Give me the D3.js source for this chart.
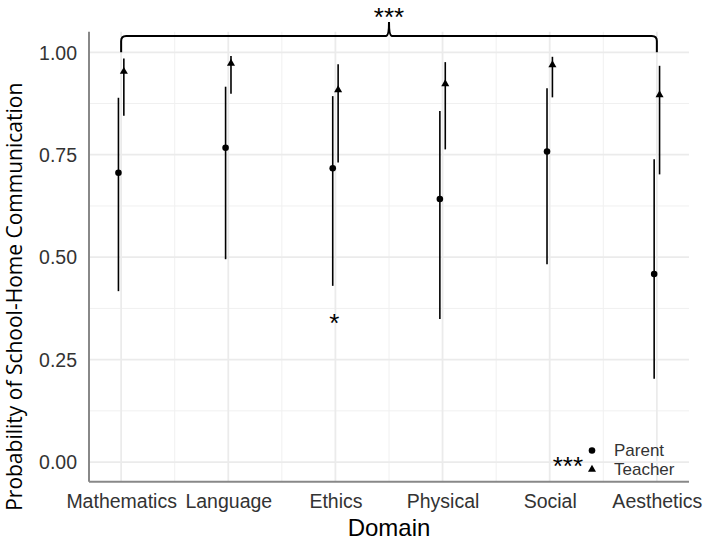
<!DOCTYPE html>
<html>
<head>
<meta charset="utf-8">
<script src="https://cdn.jsdelivr.net/npm/d3@7"></script>
<style>
  body { margin: 0; background: #fff; }
  svg { display: block; }
</style>
</head>
<body>
<div id="chart"></div>
<script>
// domains on the x axis
const domains = ['Mathematics', 'Language', 'Ethics', 'Physical', 'Social', 'Aesthetics'];
const groups = ['Parent', 'Teacher'];

// estimated probabilities with interval ends
const parentEst = [0.706, 0.767, 0.717, 0.642, 0.758, 0.459];
const parentLow = [0.417, 0.495, 0.430, 0.349, 0.483, 0.203];
const parentHigh = [0.889, 0.916, 0.893, 0.857, 0.912, 0.739];
const teacherEst = [0.953, 0.973, 0.908, 0.923, 0.969, 0.896];
const teacherLow = [0.845, 0.899, 0.731, 0.763, 0.890, 0.702];
const teacherHigh = [0.985, 0.991, 0.971, 0.976, 0.989, 0.967];

const yTicks = [0, 0.25, 0.5, 0.75, 1];
const yMinor = [0.125, 0.375, 0.625, 0.875];

// significance marks
const bracketFrom = 'Mathematics', bracketTo = 'Aesthetics';
const bracketY = [1.0, 1.04, 1.074];
const bracketLabel = '***';
const starDomain = 'Ethics', starValue = 0.355, starLabel = '*';
const legendSig = '***';

const W = 704, H = 540;
const panel = { left: 89, right: 689, top: 31.8, bottom: 481.7 };

const svg = d3.select('#chart').append('svg')
  .attr('width', W).attr('height', H);

const x = d3.scalePoint().domain(domains)
  .range([panel.left, panel.right]).padding(0.3);
const y = d3.scaleLinear().domain([-0.048, 1.05])
  .range([panel.bottom, panel.top]);
const dodge = d3.scalePoint().domain(groups).range([-2.7, 2.7]);

const grid = svg.append('g');
// minor gridlines
grid.selectAll('.hmin').data(yMinor).enter().append('line')
  .attr('x1', panel.left).attr('x2', panel.right)
  .attr('y1', d => y(d)).attr('y2', d => y(d))
  .attr('stroke', '#f0f0f0').attr('stroke-width', 1);
const xMinor = domains.slice(1).map((d, i) => (x(domains[i]) + x(d)) / 2);
grid.selectAll('.vmin').data(xMinor).enter().append('line')
  .attr('x1', d => d).attr('x2', d => d)
  .attr('y1', panel.top).attr('y2', panel.bottom)
  .attr('stroke', '#f0f0f0').attr('stroke-width', 1);
// major gridlines
grid.selectAll('.hmaj').data(yTicks).enter().append('line')
  .attr('x1', panel.left).attr('x2', panel.right)
  .attr('y1', d => y(d)).attr('y2', d => y(d))
  .attr('stroke', '#ebebeb').attr('stroke-width', 1.8);
grid.selectAll('.vmaj').data(domains).enter().append('line')
  .attr('x1', d => x(d)).attr('x2', d => x(d))
  .attr('y1', panel.top).attr('y2', panel.bottom)
  .attr('stroke', '#ebebeb').attr('stroke-width', 1.8);

// axes
const yAxis = svg.append('g')
  .attr('transform', `translate(${panel.left},0)`)
  .call(d3.axisLeft(y).tickValues(yTicks).tickFormat(d3.format('.2f')).tickSize(0).tickPadding(12));
const xAxis = svg.append('g')
  .attr('transform', `translate(0,${panel.bottom})`)
  .call(d3.axisBottom(x).tickSize(0).tickPadding(12));
[xAxis, yAxis].forEach(a => {
  a.select('.domain').remove();
  a.selectAll('text')
    .attr('fill', '#333')
    .style('font-family', '"Liberation Sans", Arial, sans-serif')
    .style('font-size', '19.5px');
});
xAxis.selectAll('text').attr('dy', '0.71em');
yAxis.selectAll('text').attr('dy', '0.35em');

svg.append('line')
  .attr('x1', panel.left).attr('x2', panel.left)
  .attr('y1', panel.top).attr('y2', panel.bottom)
  .attr('stroke', '#888').attr('stroke-width', 2);
svg.append('line')
  .attr('x1', panel.left).attr('x2', panel.right)
  .attr('y1', panel.bottom).attr('y2', panel.bottom)
  .attr('stroke', '#888').attr('stroke-width', 2);

// axis titles
svg.append('text')
  .attr('x', (panel.left + panel.right) / 2).attr('y', 536)
  .attr('text-anchor', 'middle')
  .style('font-family', '"Liberation Sans", Arial, sans-serif')
  .style('font-size', '24px')
  .text('Domain');
svg.append('text')
  .attr('transform', `translate(22,${(panel.top + panel.bottom) / 2 + 40}) rotate(-90)`)
  .attr('text-anchor', 'middle')
  .style('font-family', '"Open Sans", sans-serif')
  .style('font-size', '21px')
  .text('Probability of School-Home Communication');

// series
const rows = [];
domains.forEach((d, i) => {
  rows.push({ domain: d, group: 'Parent', est: parentEst[i], low: parentLow[i], high: parentHigh[i] });
  rows.push({ domain: d, group: 'Teacher', est: teacherEst[i], low: teacherLow[i], high: teacherHigh[i] });
});
const px = r => x(r.domain) + dodge(r.group);

svg.append('g').selectAll('line').data(rows).enter().append('line')
  .attr('x1', px).attr('x2', px)
  .attr('y1', r => y(r.low)).attr('y2', r => y(r.high))
  .attr('stroke', '#000').attr('stroke-width', 1.6);

const shape = g => g === 'Parent'
  ? d3.symbol(d3.symbolCircle, 34)()
  : d3.symbol(d3.symbolTriangle, 28)();

svg.append('g').selectAll('path').data(rows).enter().append('path')
  .attr('d', r => shape(r.group))
  .attr('transform', r => `translate(${px(r)},${y(r.est)})`)
  .attr('fill', '#000');

// significance bracket
const bx0 = x(bracketFrom), bx1 = x(bracketTo), bm = (bx0 + bx1) / 2;
const yb = y(bracketY[1]), yEnd = y(bracketY[0]), yTip = y(bracketY[2]);
const rad = 5;
const path = d3.path();
path.moveTo(bx0, yEnd);
path.lineTo(bx0, yb + rad);
path.quadraticCurveTo(bx0, yb, bx0 + rad, yb);
path.lineTo(bm - 3, yb);
path.quadraticCurveTo(bm, yb, bm, yTip);
path.quadraticCurveTo(bm, yb, bm + 3, yb);
path.lineTo(bx1 - rad, yb);
path.quadraticCurveTo(bx1, yb, bx1, yb + rad);
path.lineTo(bx1, yEnd);
svg.append('path').attr('d', path.toString())
  .attr('fill', 'none').attr('stroke', '#000').attr('stroke-width', 2);
svg.append('text')
  .attr('x', bm).attr('y', yTip + 4)
  .attr('text-anchor', 'middle')
  .style('font-family', '"Liberation Sans", Arial, sans-serif')
  .style('font-size', '26px')
  .text(bracketLabel);

svg.append('text')
  .attr('x', x(starDomain) - 1).attr('y', y(starValue) + 15)
  .attr('text-anchor', 'middle')
  .style('font-family', '"Liberation Sans", Arial, sans-serif')
  .style('font-size', '26px')
  .text(starLabel);

// legend inside panel
const lg = svg.append('g').attr('transform', 'translate(592,460)');
groups.forEach((g, i) => {
  lg.append('path').attr('d', shape(g))
    .attr('transform', `translate(0,${i * 19 - 9.5})`).attr('fill', '#000');
  lg.append('text')
    .attr('x', 22).attr('y', i * 19 - 9.5).attr('dy', '0.35em')
    .attr('fill', '#333')
    .style('font-family', '"Liberation Sans", Arial, sans-serif')
    .style('font-size', '17px')
    .text(g);
});
lg.append('text')
  .attr('x', -9).attr('y', 15)
  .attr('text-anchor', 'end')
  .style('font-family', '"Liberation Sans", Arial, sans-serif')
  .style('font-size', '26px')
  .text(legendSig);
</script>
</body>
</html>
